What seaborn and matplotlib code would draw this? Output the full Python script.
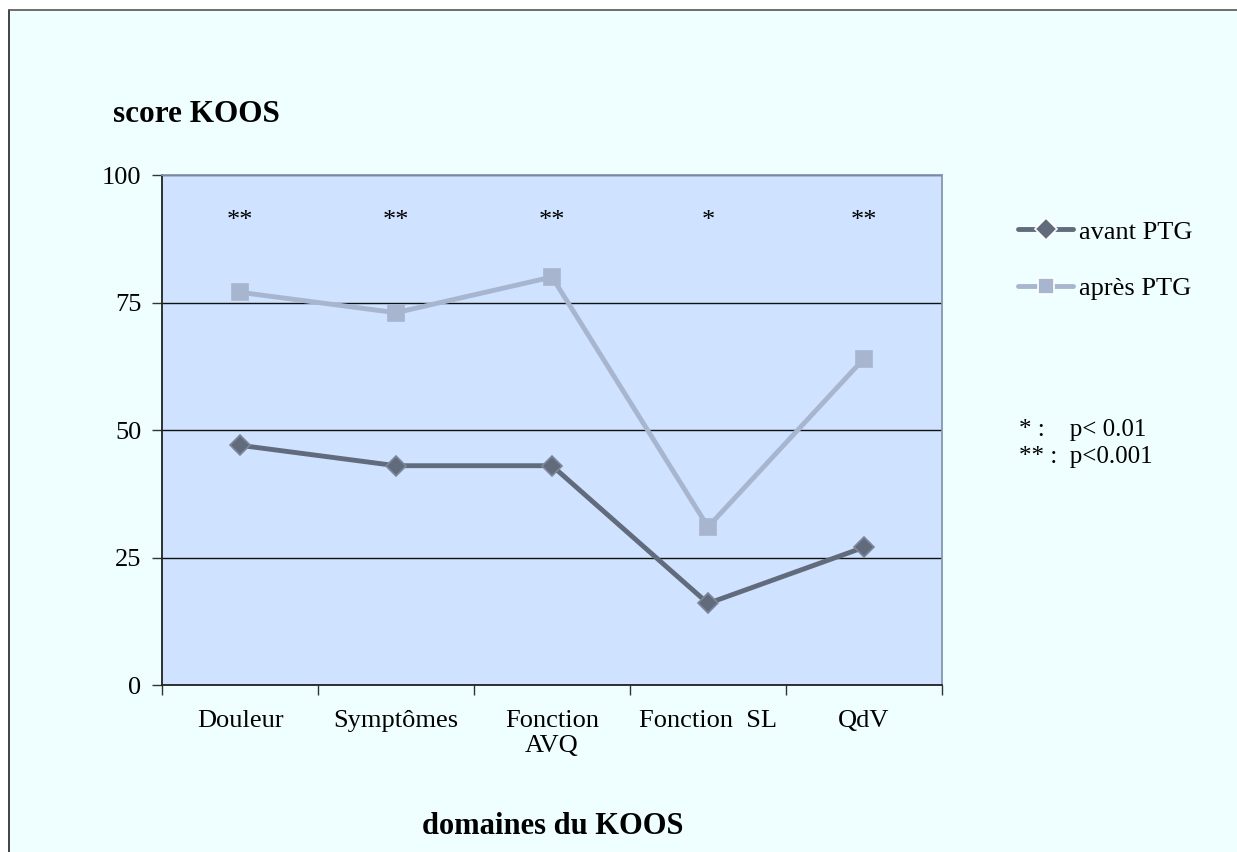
import numpy as np
import pandas as pd
import seaborn as sns
import matplotlib.pyplot as plt
from matplotlib.patches import Rectangle

sns.set_style("white")
plt.rcParams['font.family'] = ['Liberation Serif', 'DejaVu Serif']
plt.rcParams['text.color'] = 'black'
plt.rcParams['xtick.color'] = 'black'
plt.rcParams['ytick.color'] = 'black'

domains = ["Douleur", "Symptômes", "Fonction\nAVQ", "Fonction  SL", "QdV"]
avant = [47, 43, 43, 16, 27]
apres = [77, 73, 80, 31, 64]
stars = ["**", "**", "**", "*", "**"]
yticks = [0, 25, 50, 75, 100]

pos = np.arange(len(domains))
df = pd.DataFrame({
    "pos": np.concatenate([pos, pos]),
    "score": avant + apres,
    "phase": ["avant PTG"] * len(domains) + ["après PTG"] * len(domains),
})

fig = plt.figure(figsize=(12.37, 8.52), dpi=100)
fig.patch.set_facecolor("white")
# outer frame of the chart area (only top and left edges visible)
fig.patches.append(Rectangle((9 / 1237, 0), 1.2, 1 - 10 / 852, transform=fig.transFigure,
                             facecolor="#EFFFFF", edgecolor="none", zorder=-5))
fig.add_artist(plt.Line2D([9 / 1237, 9 / 1237], [0, 1 - 10 / 852], color="#222222", lw=1.2, zorder=-4))
fig.add_artist(plt.Line2D([9 / 1237, 1], [1 - 10 / 852, 1 - 10 / 852], color="#555555", lw=1.2, zorder=-4))

ax = fig.add_axes([0.131, 0.196, 0.6305, 0.5986])
ax.set_facecolor("#CFE2FF")

sns.lineplot(data=df, x="pos", y="score", hue="phase", style="phase",
             palette=["#616B7C", "#A8B5CF"], markers=["D", "s"], dashes=False,
             linewidth=3.5, markersize=11, markeredgewidth=1.2,
             ax=ax, legend=True, zorder=3)
for ln, ec, ms in zip(ax.lines[:2], ["#7D879A", "#A8B5CF"], [10, 11]):
    ln.set_markeredgecolor(ec)
    ln.set_markersize(ms)

ax.set_xlim(-0.5, len(domains) - 0.5)
ax.set_ylim(0, 100)
ax.set_yticks(yticks)
ax.set_yticklabels([str(t) for t in yticks], fontsize=19)
ax.yaxis.grid(True, color="#111111", lw=1)
ax.set_axisbelow(True)

ax.set_xticks(np.arange(len(domains) + 1) - 0.5)
ax.set_xticklabels([])
ax.set_xticks(pos, minor=True)
ax.set_xticklabels(domains, minor=True, fontsize=19, linespacing=1.2)
ax.tick_params(axis="x", which="minor", length=0, pad=18)
ax.tick_params(axis="x", which="major", direction="out", length=7, width=1, color="#333333", bottom=True)
ax.tick_params(axis="y", direction="out", length=7, width=1, color="#333333", left=True, pad=8)

for s in ["left", "bottom"]:
    ax.spines[s].set_color("#222222")
    ax.spines[s].set_linewidth(1.3)
for s in ["top", "right"]:
    ax.spines[s].set_color("#8497B0")
    ax.spines[s].set_linewidth(1.3)

for p, s in zip(pos, stars):
    ax.text(p, 91, s, ha="center", va="center", fontsize=19)

ax.set_xlabel("")
ax.set_ylabel("")
fig.text(196 / 1237, 1 - 115 / 852, "score KOOS", ha="center", va="center",
         fontsize=22.5, fontweight="bold")
fig.text(553 / 1237, 1 - 826 / 852, "domaines du KOOS", ha="center", va="center",
         fontsize=22, fontweight="bold")

handles, labels = ax.get_legend_handles_labels()
for h in handles:
    h.set_linewidth(3.5)
ax.legend(handles, labels, loc="center left", bbox_to_anchor=(1018 / 1237, 1 - 260 / 852),
          bbox_transform=fig.transFigure, frameon=False, fontsize=19,
          borderpad=0, borderaxespad=0,
          handlelength=2.1, handletextpad=0.2, labelspacing=1.25)

fig.text(1019 / 1237, 1 - 430 / 852, "* :    p< 0.01", ha="left", va="center", fontsize=18)
fig.text(1019 / 1237, 1 - 457 / 852, "** :  p<0.001", ha="left", va="center", fontsize=18)

fig.savefig("out.png", dpi=100)
